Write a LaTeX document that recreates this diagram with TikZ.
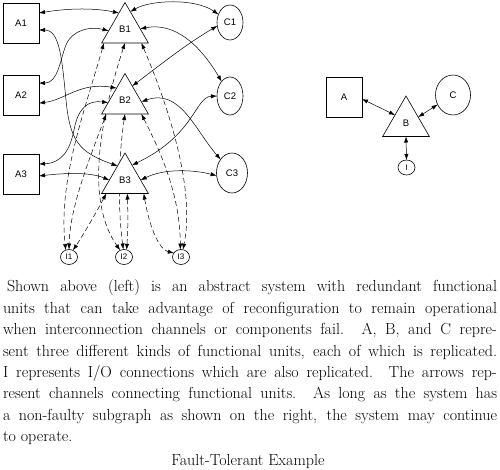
\documentclass[tikz,border=0pt]{standalone}
\usepackage{fontspec}
\newfontfamily\labfont{Liberation Sans}
\usetikzlibrary{shapes.geometric,arrows.meta,calc}
\pgfdeclarelayer{background}
\pgfsetlayers{background,main}
\begin{document}
\begin{tikzpicture}[x=1pt,y=-1pt,
  every node/.style={inner sep=0pt,outer sep=0pt},
  labtext/.style={font=\labfont\fontsize{9.5}{11}\selectfont},
  unitbox/.style={draw,line width=0.6pt,fill=white,minimum width=36pt,minimum height=40pt,labtext},
  tri/.style={draw,line width=0.6pt,fill=white,regular polygon,regular polygon sides=3,minimum size=54pt,labtext},
  ell/.style={draw,ellipse,line width=0.6pt,fill=white,labtext},
  io/.style={draw,ellipse,line width=0.6pt,fill=white,minimum width=17pt,minimum height=15pt,font=\labfont\fontsize{8}{9}\selectfont},
  link/.style={line width=0.5pt,{Latex[length=6pt,width=4.2pt]}-{Latex[length=6pt,width=4.2pt]}},
  iolink/.style={link,dash pattern=on 5pt off 3pt},
  body/.style={font=\fontsize{16}{21.4}\selectfont}
]
\useasboundingbox (0,0) rectangle (500,470);

% left system
\node[unitbox] (A1) at (21,23) {A1};
\node[unitbox] (A2) at (21,95.5) {A2};
\node[unitbox] (A3) at (21,174) {A3};
\node[tri] (B1) at (125,29.5) {B1};
\node[tri] (B2) at (125,100.5) {B2};
\node[tri] (B3) at (125,180) {B3};
\node[ell,minimum width=26pt,minimum height=35pt] (C1) at (230,22.5) {C1};
\node[ell,minimum width=26pt,minimum height=38pt] (C2) at (230,96) {C2};
\node[ell,minimum width=31pt,minimum height=40pt] (C3) at (232,173) {C3};
\node[io] (I1) at (69,257) {I1};
\node[io] (I2) at (124,257) {I2};
\node[io] (I3) at (181,257) {I3};

% right system
\node[unitbox] (A) at (344,97) {A};
\node[tri] (B) at (406,123) {B};
\node[ell,minimum width=35pt,minimum height=40pt] (C) at (453,95) {C};
\node[io] (I) at (406.5,167.5) {I};

\begin{pgfonlayer}{background}
% A -- B links
\draw[link] ($(A1.north east)!0.25!(A1.south east)$) .. controls (70,8) and (95,8) .. ($(B1.corner 1)!0.26!(B1.corner 2)$);
\draw[link] ($(A1.north east)!0.675!(A1.south east)$) .. controls (60,30) and (62,60) .. (66,100) .. controls (70,140) and (78,152) .. ($(B3.corner 1)!0.32!(B3.corner 2)$);
\draw[link] ($(A2.north east)!0.19!(A2.south east)$) .. controls (58,83) and (60,60) .. (66,45) .. controls (72,30) and (90,26) .. ($(B1.corner 1)!0.7!(B1.corner 2)$);
\draw[link] ($(A2.north east)!0.69!(A2.south east)$) .. controls (65,100) and (80,82) .. ($(B2.corner 1)!0.36!(B2.corner 2)$);
\draw[link] ($(A3.north east)!0.25!(A3.south east)$) .. controls (62,163) and (70,150) .. (74,130) .. controls (78,108) and (88,100) .. ($(B2.corner 1)!0.72!(B2.corner 2)$);
\draw[link] ($(A3.north east)!0.55!(A3.south east)$) .. controls (65,173) and (90,172) .. ($(B3.corner 1)!0.67!(B3.corner 2)$);
% B -- C links
\draw[link] ($(B1.corner 1)!0.23!(B1.corner 3)$) .. controls (150,0) and (195,-2) .. (C1.145);
\draw[link] ($(B1.corner 1)!0.65!(B1.corner 3)$) .. controls (175,22) and (200,45) .. (C2.120);
\draw[link] (C1.195) .. controls (185,45) and (160,65) .. ($(B2.corner 1)!0.31!(B2.corner 3)$);
\draw[link] ($(B2.corner 1)!0.7!(B2.corner 3)$) .. controls (180,88) and (195,130) .. (C3.130);
\draw[link] (C2.180) .. controls (195,97) and (195,135) .. ($(B3.corner 1)!0.3!(B3.corner 3)$);
\draw[link] ($(B3.corner 1)!0.67!(B3.corner 3)$) .. controls (165,168) and (195,170) .. (C3.190);
% B -- I links
\draw[iolink] ($(B1.corner 2)!0.05!(B1.corner 3)$) .. controls (85,110) and (58,180) .. (I1.115);
\draw[iolink] ($(B1.corner 2)!0.5!(B1.corner 3)$) .. controls (100,120) and (85,200) .. (I2.120);
\draw[iolink] ($(B1.corner 2)!0.85!(B1.corner 3)$) .. controls (170,110) and (195,190) .. (I3.75);
\draw[iolink] ($(B2.corner 2)!0.1!(B2.corner 3)$) .. controls (85,170) and (70,210) .. (I1.90);
\draw[iolink] ($(B2.corner 2)!0.5!(B2.corner 3)$) .. controls (118,160) and (118,210) .. (I2.95);
\draw[iolink] ($(B2.corner 2)!0.85!(B2.corner 3)$) .. controls (165,160) and (180,200) .. (I3.95);
\draw[iolink] ($(B3.corner 2)!0.1!(B3.corner 3)$) .. controls (95,215) and (80,240) .. (I1.60);
\draw[iolink] ($(B3.corner 2)!0.55!(B3.corner 3)$) .. controls (128,215) and (128,230) .. (I2.70);
\draw[iolink] ($(B3.corner 2)!0.9!(B3.corner 3)$) .. controls (150,230) and (160,250) .. (I3.150);
% right system links
\draw[link] ($(A.north east)!0.55!(A.south east)$) -- ($(B.corner 1)!0.47!(B.corner 2)$);
\draw[link] ($(B.corner 1)!0.52!(B.corner 3)$) -- (C.212);
\draw[link] ($(B.corner 2)!0.5!(B.corner 3)$) -- (I.90);
\end{pgfonlayer}

% text
\node[body,anchor=north west,text width=494pt,align=justify] (txt) at (3,280) {\hspace*{4pt}Shown above (left) is an abstract system with redundant functional\linebreak
units that can take advantage of reconfiguration to remain operational\linebreak
when interconnection channels or components fail. A, B, and C repre-\linebreak
sent three different kinds of functional units, each of which is replicated.\linebreak
I represents I/O connections which are also replicated. The arrows rep-\linebreak
resent channels connecting functional units. As long as the system has\linebreak
a non-faulty subgraph as shown on the right, the system may continue\linebreak
to operate.\par};
\node[body,anchor=base] (cap) at (248,465) {Fault-Tolerant Example};
\end{tikzpicture}
\end{document}
